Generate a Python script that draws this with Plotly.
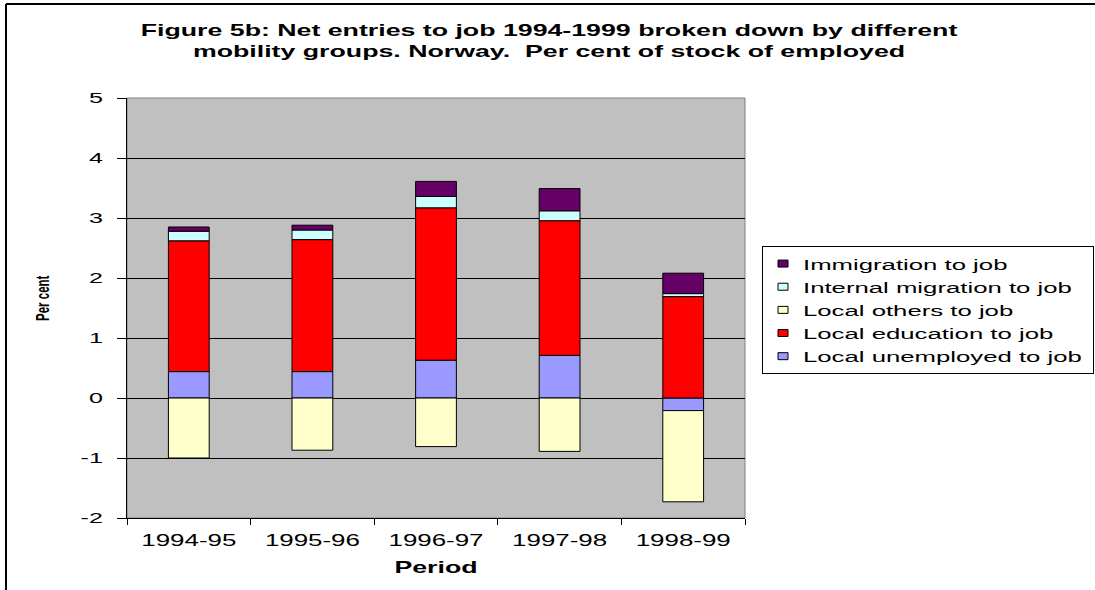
import plotly.graph_objects as go

periods = ["1994-95", "1995-96", "1996-97", "1997-98", "1998-99"]
local_unemployed = [0.44, 0.44, 0.63, 0.71, -0.21]
local_education = [2.18, 2.20, 2.54, 2.245, 1.69]
local_others = [-1.00, -0.87, -0.81, -0.89, -1.52]
internal_migration = [0.16, 0.16, 0.19, 0.165, 0.05]
immigration = [0.07, 0.08, 0.25, 0.37, 0.34]

y_ticks = [-2, -1, 0, 1, 2, 3, 4, 5]
y_tick_text = ["-2", "-1", "0", "1", "2", "3", "4", "5"]

series = [
    ("Local unemployed to job", local_unemployed, "#9999FF"),
    ("Local education to job", local_education, "#FF0000"),
    ("Local others to job", local_others, "#FFFFCC"),
    ("Internal migration to job", internal_migration, "#CCFFFF"),
    ("Immigration to job", immigration, "#660066"),
]

fig = go.Figure()
for name, vals, color in series:
    fig.add_trace(go.Bar(
        x=periods, y=vals, name=name,
        marker=dict(color=color, line=dict(color="black", width=1)),
    ))

FONT = "Liberation Sans, Arial, sans-serif"
L, T, W, H = 127, 98, 618, 420

fig.update_layout(
    width=1095, height=590,
    barmode="relative",
    bargap=0.67,
    paper_bgcolor="white",
    plot_bgcolor="#C0C0C0",
    margin=dict(l=L, r=1095 - L - W, t=T, b=590 - T - H),
    font=dict(family=FONT, color="black", size=15),
    title=dict(
        text="<b>Figure 5b: Net entries to job 1994-1999 broken down by different<br>mobility groups. Norway.  Per cent of stock of employed</b>",
        x=549 / 1095, xanchor="center", y=1 - 36 / 590, yanchor="top",
        font=dict(family=FONT, size=16.5, color="black"),
    ),
    legend=dict(
        x=(762 - L) / W, xanchor="left", y=(T + H - 246) / H, yanchor="top",
        traceorder="reversed",
        bordercolor="black", borderwidth=1, bgcolor="white",
        font=dict(family=FONT, size=15.5),
        tracegroupgap=0, itemwidth=30,
    ),
    showlegend=True,
)

fig.update_yaxes(
    range=[-2, 5], tickvals=y_ticks, ticktext=y_tick_text,
    showgrid=True, gridcolor="black", gridwidth=1,
    zeroline=False,
    showline=True, linecolor="black", linewidth=1,
    ticks="outside", ticklen=9, tickcolor="black",
    ticklabelstandoff=11,
    tickfont=dict(family=FONT, size=15.5),
)
fig.update_xaxes(
    showline=True, linecolor="black", linewidth=1, mirror=False,
    ticks="outside", ticklen=6, tickcolor="black", tickson="boundaries",
    ticklabelstandoff=8,
    tickfont=dict(family=FONT, size=16),
    title=dict(text="<b>Period</b>", font=dict(family=FONT, size=16.5), standoff=13),
)

# y-axis title placed where the reference has it
fig.add_annotation(
    text="<b>Per cent</b>", textangle=-90, showarrow=False,
    xref="paper", yref="paper", x=(43 - L) / W, y=(T + H - 298) / H,
    xanchor="center", yanchor="middle",
    font=dict(family=FONT, size=11.5),
)

# plot-area border (grey, right edge)
fig.add_shape(type="rect", xref="paper", yref="paper", x0=0, x1=1, y0=0, y1=1,
              line=dict(color="#808080", width=1), layer="below")

# chart-area border (left and top edges visible)
fig.add_shape(type="line", xref="paper", yref="paper",
              x0=(6 - L) / W, x1=(6 - L) / W, y0=(T + H - 4) / H, y1=-(590 - T - H) / H,
              line=dict(color="black", width=2))
fig.add_shape(type="line", xref="paper", yref="paper",
              x0=(6 - L) / W, x1=(1095 - L) / W, y0=(T + H - 4) / H, y1=(T + H - 4) / H,
              line=dict(color="black", width=2))

# The reference image is horizontally stretched; widen glyphs the same way.
post = """
var gd = document.getElementById('{plot_id}');
document.body.style.margin = '0px';
var S = 1.62;
gd.querySelectorAll('text').forEach(function(t) {
  if (t.classList.contains('annotation-text')) return;
  var s = t.classList.contains('legendtext') ? 1.66 : S;
  var x = parseFloat(t.getAttribute('x')) || 0;
  var tr = t.getAttribute('transform') || '';
  t.setAttribute('transform', tr + ' translate(' + x + ',0) scale(' + s + ',1) translate(' + (-x) + ',0)');
});
gd.querySelectorAll('text.annotation-text').forEach(function(t) {
  var b = t.getBBox();
  var cy = b.y + b.height / 2;
  var tr = t.getAttribute('transform') || '';
  t.setAttribute('transform', tr + ' translate(0,' + cy + ') scale(1,' + S + ') translate(0,' + (-cy) + ')');
});
gd.querySelectorAll('.legendpoints path').forEach(function(p) { p.setAttribute('d', 'M5,3.5H-5V-3.5H5Z'); });
gd.querySelectorAll('.legend rect.bg').forEach(function(r) { r.setAttribute('width', '331'); });
document.querySelectorAll('clipPath[id^="legend"] rect').forEach(function(r) { r.setAttribute('width', '331'); });
"""

fig.write_html("out.html", config={"displayModeBar": False}, post_script=post)
